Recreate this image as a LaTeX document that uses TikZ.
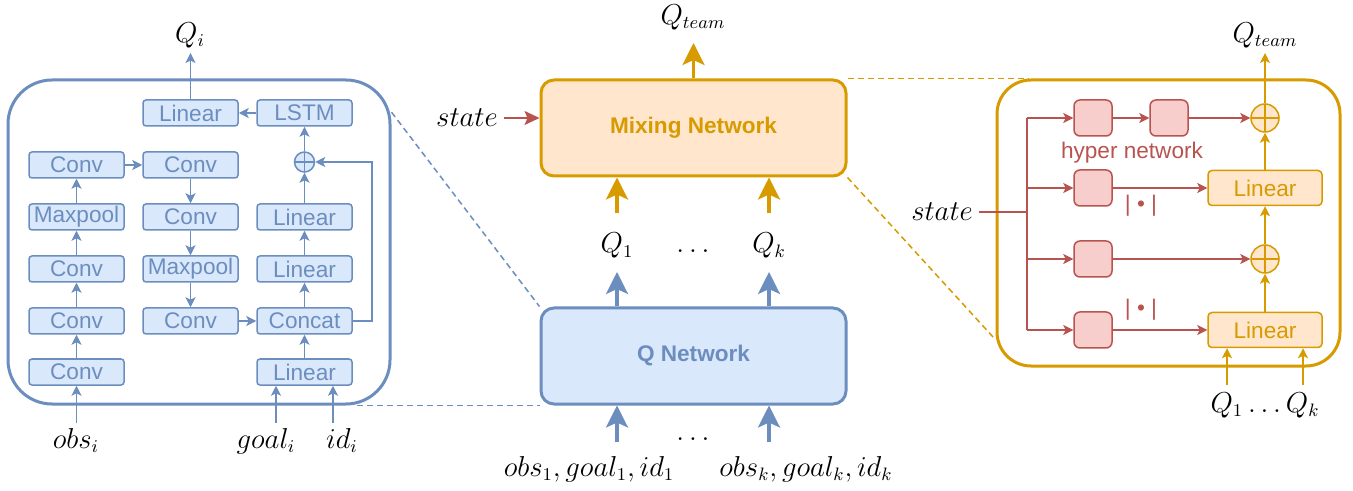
\documentclass[tikz,border=0pt]{standalone}
\usepackage{fontspec}
\setsansfont{Liberation Sans}
\usetikzlibrary{arrows.meta,positioning}
\definecolor{qblue}{HTML}{6C8EBF}
\definecolor{qbluefill}{HTML}{DAE8FC}
\definecolor{mixorange}{HTML}{D79B00}
\definecolor{mixfill}{HTML}{FFE6CC}
\definecolor{hyperred}{HTML}{B85450}
\definecolor{hyperfill}{HTML}{F8CECC}

\begin{document}
\begin{tikzpicture}[x=0.5pt, y=-0.5pt,
    >={Stealth[length=5pt, width=5pt, inset=1.2pt]},
    boxfont/.style={font=\sffamily\fontsize{11.3}{13}\selectfont},
    lbl/.style={font=\fontsize{13.5}{16}\selectfont},
    layer/.style={boxfont, draw=qblue, fill=qbluefill, text=qblue, line width=0.75pt,
        rounded corners=1.5pt, minimum width=47.5pt, minimum height=13pt, inner sep=0pt},
    mixlayer/.style={boxfont, draw=mixorange, fill=mixfill, text=mixorange, line width=0.75pt,
        rounded corners=2pt, minimum width=57pt, minimum height=17.5pt, inner sep=0pt},
    hyper/.style={draw=hyperred, fill=hyperfill, line width=0.75pt,
        rounded corners=3pt, minimum width=19pt, minimum height=18pt, inner sep=0pt},
    hyperlbl/.style={boxfont, text=hyperred},
    panel/.style={fill=white, line width=1.5pt, inner sep=0pt},
    bignet/.style={font=\sffamily\bfseries\fontsize{11.3}{13}\selectfont, line width=1.5pt, rounded corners=6.5pt,
        minimum width=152.5pt, minimum height=48pt, inner sep=0pt},
    addnode/.style 2 args={circle, draw=#1, fill=#2, line width=0.75pt, inner sep=0pt,
        path picture={\draw[#1, line width=0.75pt]
            (path picture bounding box.north) -- (path picture bounding box.south)
            (path picture bounding box.west) -- (path picture bounding box.east);}},
    fat/.style={line width=1.6pt, -{Stealth[length=11pt, width=11pt, inset=2.5pt]}},
    zoomline/.style={dash pattern=on 3pt off 2pt, line width=0.75pt}
    ]
    \useasboundingbox (0, 0) rectangle (1353, 491);

    % agent network
    \node[panel, draw=qblue, minimum width=191pt, minimum height=162pt, rounded corners=22pt] at (199, 242)(qpanel){};
    \node[layer] at (190.5, 113)(linout){Linear};
    \node[layer] at (304.5, 113)(lstm){LSTM};
    \node[layer] at (76.5, 165)(conv4){Conv};
    \node[layer] at (76.5, 217)(pool1){Maxpool};
    \node[layer] at (76.5, 269)(conv3){Conv};
    \node[layer] at (76.5, 321)(conv2){Conv};
    \node[layer] at (76.5, 372)(conv1){Conv};
    \node[layer] at (190.5, 165)(conv5){Conv};
    \node[layer] at (190.5, 217)(conv6){Conv};
    \node[layer] at (190.5, 269)(pool2){Maxpool};
    \node[layer] at (190.5, 321)(conv7){Conv};
    \node[layer] at (304.5, 372)(linin){Linear};
    \node[layer] at (304.5, 321)(concat){Concat};
    \node[layer] at (304.5, 269)(lin2){Linear};
    \node[layer] at (304.5, 217)(lin3){Linear};
    \node[addnode={qblue}{qbluefill}, minimum size=10pt] at (304.5, 162)(add0){};

    \node[lbl] at (190, 35)(qi){$Q_i$};
    \node[lbl, anchor=base] at (76, 448)(obsi){$obs_i$};
    \node[lbl, anchor=base] at (266, 448)(goali){$goal_i$};
    \node[lbl, anchor=base] at (342, 448)(idi){$id_i$};
    \coordinate (qiout) at (190.5, 53);
    \coordinate (obsin) at (76.5, 423);
    \coordinate (goalin) at (276, 423);
    \coordinate (idin) at (333, 423);

    \path[->, qblue, line width=0.75pt]
        (conv1)edge(conv2)
        (conv2)edge(conv3)
        (conv3)edge(pool1)
        (pool1)edge(conv4)
        (conv4)edge(conv5)
        (conv5)edge(conv6)
        (conv6)edge(pool2)
        (pool2)edge(conv7)
        (conv7)edge(concat)
        (linin)edge(concat)
        (concat)edge(lin2)
        (lin2)edge(lin3)
        (lin3)edge(add0)
        (add0)edge(lstm)
        (lstm)edge(linout)
        (linout)edge(qiout)
        (obsin)edge(conv1)
        (goalin)edge(goalin |- linin.south)
        (idin)edge(idin |- linin.south)
        ;
    \draw[->, qblue, line width=0.75pt] (concat.east) -- ++(19, 0) |- (add0);

    % team level
    \node[bignet, draw=mixorange, fill=mixfill, text=mixorange] at (693.5, 128)(mix){Mixing Network};
    \node[bignet, draw=qblue, fill=qbluefill, text=qblue] at (693.5, 356)(qnet){Q Network};
    \node[lbl] at (693, 17)(qteam){$Q_{team}$};
    \node[lbl] at (467, 118)(state){$state$};
    \node[lbl, anchor=base] at (617, 253)(q1){$Q_1$};
    \node[lbl, anchor=base] at (693, 253)(qdots){$\dots$};
    \node[lbl, anchor=base] at (769, 253)(qk){$Q_k$};
    \node[lbl, anchor=base] at (693, 440)(indots){$\dots$};
    \node[lbl, anchor=base] at (589, 476)(in1){$obs_1, goal_1, id_1$};
    \node[lbl, anchor=base] at (806, 476)(ink){$obs_k, goal_k, id_k$};
    \coordinate (teamout) at (693.5, 43);
    \coordinate (q1top) at (617, 213);
    \coordinate (qktop) at (769, 213);
    \coordinate (q1bot) at (617, 272);
    \coordinate (qkbot) at (769, 272);
    \coordinate (in1top) at (617, 442);
    \coordinate (inktop) at (769, 442);
    \coordinate (stateout) at (504, 118);

    \path[fat, mixorange]
        (mix)edge(teamout)
        (q1top)edge(q1top |- mix.south)
        (qktop)edge(qktop |- mix.south);
    \path[fat, qblue]
        (q1bot |- qnet.north)edge(q1bot)
        (qkbot |- qnet.north)edge(qkbot)
        (in1top)edge(in1top |- qnet.south)
        (inktop)edge(inktop |- qnet.south);
    \draw[hyperred, line width=0.75pt, -{Stealth[length=7.5pt, width=7pt, inset=1.5pt]}] (stateout) -- (stateout -| mix.west);

    % mixing network
    \node[panel, draw=mixorange, minimum width=171.5pt, minimum height=143pt, rounded corners=17pt] at (1168.5, 223)(mixpanel){};
    \node[hyper] at (1093, 118)(hyp1){};
    \node[hyper] at (1169, 118)(hyp2){};
    \node[hyper] at (1093, 188)(hyp3){};
    \node[hyper] at (1093, 259)(hyp4){};
    \node[hyper] at (1093, 330)(hyp5){};
    \node[mixlayer] at (1265, 188)(mixlin1){Linear};
    \node[mixlayer] at (1265, 330)(mixlin2){Linear};
    \node[addnode={mixorange}{mixfill}, minimum size=14pt] at (1265, 118)(add1){};
    \node[addnode={mixorange}{mixfill}, minimum size=14pt] at (1265, 259)(add2){};
    \node[hyperlbl] at (1132, 153)(hyplbl){hyper network};
    \node[hyperlbl] at (1141, 206)(abs1){| • |};
    \node[hyperlbl] at (1141, 310)(abs2){| • |};
    \node[lbl] at (1265, 35)(qteam2){$Q_{team}$};
    \node[lbl] at (942, 212)(state2){$state$};
    \node[lbl, anchor=base] at (1265, 412)(qall){$Q_1\dots Q_k$};
    \coordinate (statein) at (979, 212);
    \coordinate (bus) at (1027, 212);
    \coordinate (teamout2) at (1265, 53);
    \coordinate (qin1) at (1227, 385);
    \coordinate (qink) at (1303, 385);

    \draw[hyperred, line width=0.75pt] (statein) -- (bus) (bus |- hyp1) -- (bus |- hyp5);
    \path[->, hyperred, line width=0.75pt]
        (bus |- hyp1)edge(hyp1)
        (bus |- hyp3)edge(hyp3)
        (bus |- hyp4)edge(hyp4)
        (bus |- hyp5)edge(hyp5)
        (hyp1)edge(hyp2)
        (hyp2)edge(add1)
        (hyp3)edge(mixlin1)
        (hyp4)edge(add2)
        (hyp5)edge(mixlin2)
        ;
    \path[->, mixorange, line width=0.75pt]
        (mixlin2)edge(add2)
        (add2)edge(mixlin1)
        (mixlin1)edge(add1)
        (add1)edge(teamout2)
        (qin1)edge(qin1 |- mixlin2.south)
        (qink)edge(qink |- mixlin2.south)
        ;

    % zoom lines
    \draw[zoomline, qblue] (qpanel.34) -- (qnet.north west);
    \draw[zoomline, qblue] (qpanel.-46.6) -- (qnet.south west);
    \draw[zoomline, mixorange] (mix.north east) -- (mixpanel.134.7);
    \draw[zoomline, mixorange] (mix.south east) -- (mixpanel.214.9);
\end{tikzpicture}
\end{document}
